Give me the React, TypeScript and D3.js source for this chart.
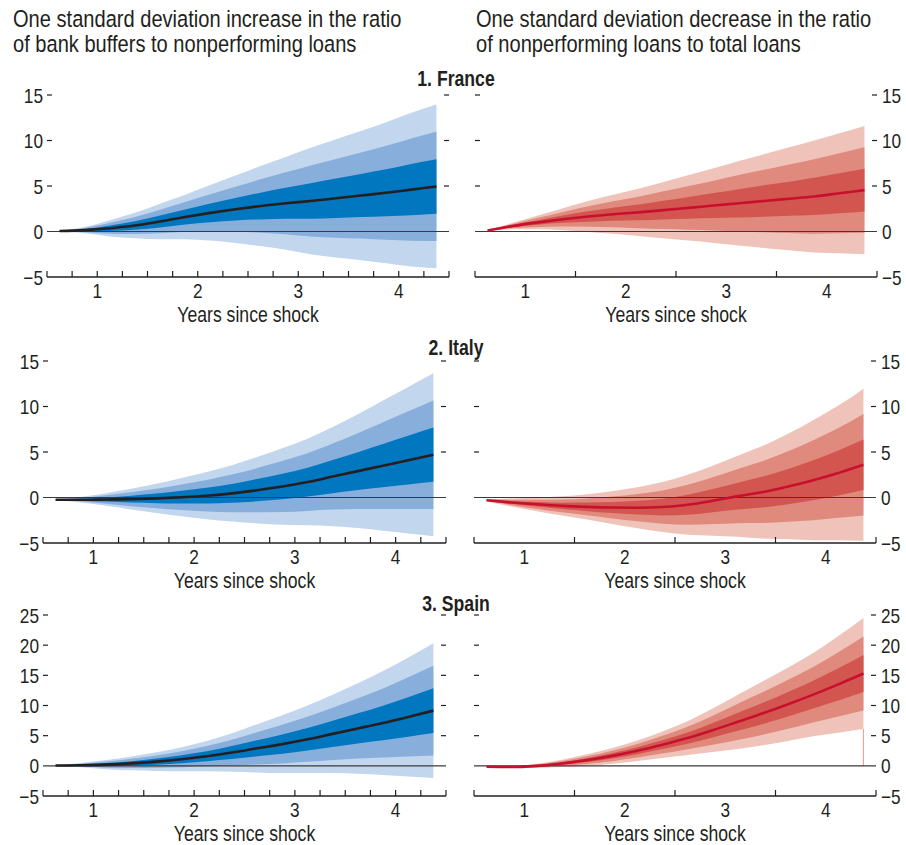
import React from "react";
import * as d3 from "d3";

// ---------- DATA ----------
const quarters = [0.625, 0.875, 1.125, 1.375, 1.625, 1.875, 2.125, 2.375, 2.625, 2.875, 3.125, 3.375, 3.625, 3.875, 4.125, 4.375];
const xTickLabels = [1, 2, 3, 4];
const headerLeft = ["One standard deviation increase in the ratio", "of bank buffers to nonperforming loans"];
const headerRight = ["One standard deviation decrease in the ratio", "of nonperforming loans to total loans"];
const countryTitles = ["1. France", "2. Italy", "3. Spain"];
const xAxisTitle = "Years since shock";
const yTicksFrItRows = [-5, 0, 5, 10, 15];
const yTicksSpain = [-5, 0, 5, 10, 15, 20, 25];

// France, left (bank buffers)
const frL_med = [0.05, 0.15, 0.35, 0.65, 1.1, 1.6, 2.05, 2.45, 2.8, 3.1, 3.35, 3.65, 3.95, 4.25, 4.6, 4.95];
const frL_hi3 = [0.1, 0.5, 1.25, 2.05, 3.05, 4.05, 5.1, 6.15, 7.2, 8.2, 9.2, 10.15, 11.05, 12.0, 13.05, 13.95];
const frL_hi2 = [0.08, 0.38, 0.95, 1.58, 2.4, 3.23, 4.08, 4.92, 5.73, 6.5, 7.25, 7.98, 8.68, 9.42, 10.23, 10.95];
const frL_hi1 = [0.07, 0.27, 0.65, 1.12, 1.75, 2.42, 3.07, 3.68, 4.27, 4.8, 5.3, 5.82, 6.32, 6.83, 7.42, 7.95];
const frL_lo1 = [0.03, 0.03, 0.05, 0.18, 0.45, 0.78, 1.03, 1.22, 1.33, 1.4, 1.4, 1.48, 1.58, 1.67, 1.78, 1.95];
const frL_lo2 = [0.02, -0.08, -0.25, -0.28, -0.2, -0.03, 0.02, -0.02, -0.13, -0.3, -0.55, -0.68, -0.78, -0.92, -1.03, -1.05];
const frL_lo3 = [0.0, -0.2, -0.55, -0.75, -0.85, -0.85, -1.0, -1.25, -1.6, -2.0, -2.5, -2.85, -3.15, -3.5, -3.85, -4.05];

// France, right (NPL ratio)
const frR_med = [0.1, 0.6, 1.0, 1.35, 1.65, 1.9, 2.1, 2.35, 2.6, 2.85, 3.1, 3.35, 3.6, 3.85, 4.2, 4.55];
const frR_hi3 = [0.15, 0.95, 1.75, 2.55, 3.35, 4.05, 4.7, 5.45, 6.2, 6.95, 7.75, 8.5, 9.25, 10.0, 10.8, 11.6];
const frR_hi2 = [0.13, 0.83, 1.5, 2.15, 2.78, 3.33, 3.83, 4.42, 5.0, 5.58, 6.2, 6.78, 7.37, 7.95, 8.6, 9.25];
const frR_hi1 = [0.12, 0.72, 1.25, 1.75, 2.22, 2.62, 2.97, 3.38, 3.8, 4.22, 4.65, 5.07, 5.48, 5.9, 6.4, 6.9];
const frR_lo1 = [0.08, 0.48, 0.75, 0.95, 1.08, 1.18, 1.23, 1.32, 1.4, 1.48, 1.55, 1.63, 1.72, 1.8, 2.0, 2.2];
const frR_lo2 = [0.07, 0.37, 0.5, 0.55, 0.52, 0.47, 0.37, 0.28, 0.2, 0.12, 0.0, -0.08, -0.17, -0.25, -0.2, -0.15];
const frR_lo3 = [0.05, 0.25, 0.25, 0.15, -0.05, -0.25, -0.5, -0.75, -1.0, -1.25, -1.55, -1.8, -2.05, -2.3, -2.4, -2.5];

// Italy, left
const itL_med = [-0.25, -0.25, -0.22, -0.18, -0.1, 0.03, 0.2, 0.45, 0.8, 1.2, 1.7, 2.3, 2.9, 3.5, 4.1, 4.7];
const itL_hi3 = [-0.2, 0.05, 0.48, 0.97, 1.5, 2.13, 2.8, 3.55, 4.45, 5.4, 6.45, 7.75, 9.15, 10.65, 12.15, 13.65];
const itL_hi2 = [-0.22, -0.05, 0.25, 0.59, 0.97, 1.43, 1.93, 2.52, 3.23, 4.0, 4.87, 5.93, 7.07, 8.27, 9.47, 10.67];
const itL_hi1 = [-0.23, -0.15, 0.01, 0.2, 0.43, 0.73, 1.07, 1.48, 2.02, 2.6, 3.28, 4.12, 4.98, 5.88, 6.78, 7.68];
const itL_lo1 = [-0.27, -0.35, -0.45, -0.56, -0.63, -0.67, -0.67, -0.58, -0.42, -0.2, 0.12, 0.48, 0.82, 1.12, 1.42, 1.72];
const itL_lo2 = [-0.28, -0.45, -0.69, -0.95, -1.17, -1.37, -1.53, -1.62, -1.63, -1.6, -1.47, -1.33, -1.27, -1.27, -1.27, -1.27];
const itL_lo3 = [-0.3, -0.55, -0.92, -1.33, -1.7, -2.07, -2.4, -2.65, -2.85, -3.0, -3.05, -3.15, -3.35, -3.65, -3.95, -4.25];

// Italy, right
const itR_med = [-0.3, -0.55, -0.75, -0.92, -1.03, -1.1, -1.12, -1.05, -0.8, -0.35, 0.15, 0.6, 1.2, 1.9, 2.7, 3.6];
const itR_hi3 = [-0.2, -0.1, 0.0, 0.13, 0.37, 0.7, 1.13, 1.7, 2.5, 3.5, 4.6, 5.7, 7.0, 8.5, 10.1, 11.95];
const itR_hi2 = [-0.23, -0.25, -0.25, -0.22, -0.1, 0.1, 0.38, 0.78, 1.4, 2.22, 3.12, 4.0, 5.07, 6.3, 7.63, 9.17];
const itR_hi1 = [-0.27, -0.4, -0.5, -0.57, -0.56, -0.5, -0.37, -0.13, 0.3, 0.93, 1.63, 2.3, 3.13, 4.1, 5.17, 6.38];
const itR_lo1 = [-0.33, -0.7, -1.0, -1.27, -1.5, -1.7, -1.87, -1.97, -1.9, -1.63, -1.33, -1.1, -0.73, -0.3, 0.23, 0.82];
const itR_lo2 = [-0.37, -0.85, -1.25, -1.62, -1.96, -2.3, -2.62, -2.88, -3.0, -2.92, -2.82, -2.8, -2.67, -2.5, -2.23, -1.97];
const itR_lo3 = [-0.4, -1.0, -1.5, -1.97, -2.43, -2.9, -3.37, -3.8, -4.1, -4.2, -4.3, -4.5, -4.6, -4.7, -4.7, -4.75];

// Spain, left
const esL_med = [0.05, 0.1, 0.2, 0.4, 0.7, 1.1, 1.6, 2.2, 2.9, 3.6, 4.4, 5.3, 6.2, 7.1, 8.1, 9.15];
const esL_hi3 = [0.1, 0.45, 0.95, 1.55, 2.25, 3.1, 4.1, 5.4, 6.9, 8.4, 10.0, 11.8, 13.7, 15.7, 17.95, 20.3];
const esL_hi2 = [0.08, 0.33, 0.7, 1.17, 1.73, 2.43, 3.27, 4.33, 5.57, 6.8, 8.13, 9.63, 11.2, 12.83, 14.67, 16.58];
const esL_hi1 = [0.07, 0.22, 0.45, 0.78, 1.22, 1.77, 2.43, 3.27, 4.23, 5.2, 6.27, 7.47, 8.7, 9.97, 11.38, 12.87];
const esL_lo1 = [0.03, -0.02, -0.05, 0.02, 0.18, 0.43, 0.77, 1.13, 1.57, 2.0, 2.53, 3.13, 3.7, 4.23, 4.82, 5.43];
const esL_lo2 = [0.02, -0.13, -0.3, -0.37, -0.33, -0.23, -0.07, 0.07, 0.23, 0.4, 0.67, 0.97, 1.2, 1.37, 1.53, 1.72];
const esL_lo3 = [0.0, -0.25, -0.55, -0.75, -0.85, -0.9, -0.9, -1.0, -1.1, -1.2, -1.2, -1.2, -1.3, -1.5, -1.75, -2.0];

// Spain, right
const esR_med = [-0.15, -0.2, 0.0, 0.4, 0.95, 1.65, 2.5, 3.5, 4.6, 5.9, 7.3, 8.7, 10.2, 11.8, 13.5, 15.3];
const esR_hi3 = [-0.1, -0.05, 0.35, 1.0, 1.9, 2.95, 4.2, 5.7, 7.4, 9.5, 11.8, 14.0, 16.3, 18.7, 21.5, 24.5];
const esR_hi2 = [-0.12, -0.1, 0.23, 0.8, 1.58, 2.52, 3.63, 4.97, 6.47, 8.3, 10.3, 12.23, 14.27, 16.4, 18.83, 21.43];
const esR_hi1 = [-0.13, -0.15, 0.12, 0.6, 1.27, 2.08, 3.07, 4.23, 5.53, 7.1, 8.8, 10.47, 12.23, 14.1, 16.17, 18.37];
const esR_lo1 = [-0.17, -0.25, -0.12, 0.2, 0.63, 1.22, 1.93, 2.77, 3.67, 4.7, 5.8, 6.93, 8.17, 9.5, 10.83, 12.23];
const esR_lo2 = [-0.18, -0.3, -0.23, 0.0, 0.32, 0.78, 1.37, 2.03, 2.73, 3.5, 4.3, 5.17, 6.13, 7.2, 8.17, 9.17];
const esR_lo3 = [-0.2, -0.35, -0.35, -0.2, 0.0, 0.35, 0.8, 1.3, 1.8, 2.3, 2.8, 3.4, 4.1, 4.9, 5.5, 6.1];

// ---------- STYLE ----------
const FONT = "'Liberation Sans', Arial, Helvetica, sans-serif";
const NARROW = 0.82;
const INK = "#231f20";
const BLUE = { light: "#c2d6ee", mid: "#88aedc", dark: "#0077bf", line: "#231f20", edge: "#c2d6ee" };
const RED = { light: "#efc3b9", mid: "#e08a7d", dark: "#d2564f", line: "#c8102e", edge: "#eba597" };

type Series = { med: number[]; hi3: number[]; hi2: number[]; hi1: number[]; lo1: number[]; lo2: number[]; lo3: number[] };

// Condensed text: regular sans-serif squeezed horizontally
function NText({ x, y, size, anchor = "start", weight = "normal", dy, children }: any) {
  return (
    <text
      transform={`translate(${x},${y}) scale(${NARROW},1)`}
      x={0}
      y={0}
      dy={dy}
      textAnchor={anchor}
      fontSize={size}
      fontWeight={weight}
      fill={INK}
      fontFamily={FONT}
    >
      {children}
    </text>
  );
}

const rows = [
  {
    title: countryTitles[0], titleY: 86, y0: 277, y1: 95, domain: [-5, 15], ticks: yTicksFrItRows,
    left: { x0: 47, x1: 449, s: { med: frL_med, hi3: frL_hi3, hi2: frL_hi2, hi1: frL_hi1, lo1: frL_lo1, lo2: frL_lo2, lo3: frL_lo3 } },
    right: { x0: 475, x1: 877, s: { med: frR_med, hi3: frR_hi3, hi2: frR_hi2, hi1: frR_hi1, lo1: frR_lo1, lo2: frR_lo2, lo3: frR_lo3 } },
  },
  {
    title: countryTitles[1], titleY: 355, y0: 543, y1: 361, domain: [-5, 15], ticks: yTicksFrItRows,
    left: { x0: 43, x1: 446, s: { med: itL_med, hi3: itL_hi3, hi2: itL_hi2, hi1: itL_hi1, lo1: itL_lo1, lo2: itL_lo2, lo3: itL_lo3 } },
    right: { x0: 474, x1: 876, s: { med: itR_med, hi3: itR_hi3, hi2: itR_hi2, hi1: itR_hi1, lo1: itR_lo1, lo2: itR_lo2, lo3: itR_lo3 } },
  },
  {
    title: countryTitles[2], titleY: 611, y0: 796, y1: 615, domain: [-5, 25], ticks: yTicksSpain,
    left: { x0: 43, x1: 446, s: { med: esL_med, hi3: esL_hi3, hi2: esL_hi2, hi1: esL_hi1, lo1: esL_lo1, lo2: esL_lo2, lo3: esL_lo3 } },
    right: { x0: 474, x1: 876, s: { med: esR_med, hi3: esR_hi3, hi2: esR_hi2, hi1: esR_hi1, lo1: esR_lo1, lo2: esR_lo2, lo3: esR_lo3 } },
  },
];

function Panel({ x0, x1, y0, y1, domain, ticks, s, side, colors, closeEdge }: any) {
  const x = d3.scaleLinear().domain([0.5, 4.5]).range([x0, x1]);
  const y = d3.scaleLinear().domain(domain).range([y0, y1]);
  const ser: Series = s;
  const area = (lo: number[], hi: number[]) =>
    d3.area<number>().x((_, i) => x(quarters[i])).y0((_, i) => y(lo[i])).y1((_, i) => y(hi[i])).curve(d3.curveMonotoneX)(quarters) || "";
  const line = d3.line<number>().x((_, i) => x(quarters[i])).y((d) => y(d)).curve(d3.curveMonotoneX)(ser.med) || "";
  const minorTicks = side === "left" ? d3.range(0, 17).map((k) => 0.5 + k * 0.25) : d3.range(0, 5).map((k) => 0.5 + k);
  const axisY = y(domain[0]);
  const last = quarters.length - 1;
  return (
    <g>
      <path d={area(ser.lo3, ser.hi3)} fill={colors.light} />
      <path d={area(ser.lo2, ser.hi2)} fill={colors.mid} />
      <path d={area(ser.lo1, ser.hi1)} fill={colors.dark} />
      {closeEdge && (
        <line x1={x(quarters[last])} x2={x(quarters[last])} y1={y(ser.lo3[last])} y2={y(0)} stroke={colors.edge} strokeWidth={1.2} />
      )}
      <line x1={x0} x2={x1} y1={y(0)} y2={y(0)} stroke="#3a3a3a" strokeWidth={1.2} />
      <path d={line} fill="none" stroke={colors.line} strokeWidth={2.6} />
      {ticks.filter((t: number) => t !== domain[0] && t !== 0).map((t: number) => (
        <g key={t}>
          <line x1={x0} x2={x0 + 5} y1={y(t)} y2={y(t)} stroke={INK} strokeWidth={1.2} />
          <line x1={x1 - 5} x2={x1} y1={y(t)} y2={y(t)} stroke={INK} strokeWidth={1.2} />
        </g>
      ))}
      {ticks.map((t: number) => (
        <NText key={"l" + t} x={side === "left" ? x0 - 4 : x1 + 5} y={y(t)} dy="0.36em" size={21}
          anchor={side === "left" ? "end" : "start"}>
          {t < 0 ? "\u2212" + Math.abs(t) : String(t)}
        </NText>
      ))}
      <line x1={x0} x2={x1} y1={axisY} y2={axisY} stroke={INK} strokeWidth={1.4} />
      {minorTicks.map((t) => (
        <line key={"m" + t} x1={x(t)} x2={x(t)} y1={axisY} y2={axisY - 6} stroke={INK} strokeWidth={1.2} />
      ))}
      {xTickLabels.map((t) => (
        <NText key={"x" + t} x={x(t)} y={axisY + 21} size={21} anchor="middle">
          {t}
        </NText>
      ))}
      <NText x={(x0 + x1) / 2} y={axisY + 45} size={21.5} anchor="middle">
        {xAxisTitle}
      </NText>
    </g>
  );
}

export default function App() {
  return (
    <svg width={906} height={845} viewBox="0 0 906 845" style={{ position: "absolute", left: 0, top: 0, background: "#fff" }}>
      <rect width={906} height={845} fill="#fff" />
      {headerLeft.map((t, i) => (
        <NText key={"hl" + i} x={13} y={27 + i * 25} size={24.5}>{t}</NText>
      ))}
      {headerRight.map((t, i) => (
        <NText key={"hr" + i} x={476} y={27 + i * 25} size={24.5}>{t}</NText>
      ))}
      {rows.map((r, i) => (
        <g key={i}>
          <Panel {...r.left} y0={r.y0} y1={r.y1} domain={r.domain} ticks={r.ticks} side="left" colors={BLUE} />
          <Panel {...r.right} y0={r.y0} y1={r.y1} domain={r.domain} ticks={r.ticks} side="right" colors={RED} closeEdge={i === 2} />
          <NText x={456} y={r.titleY} size={21.5} weight="bold" anchor="middle">
            {r.title}
          </NText>
        </g>
      ))}
    </svg>
  );
}
